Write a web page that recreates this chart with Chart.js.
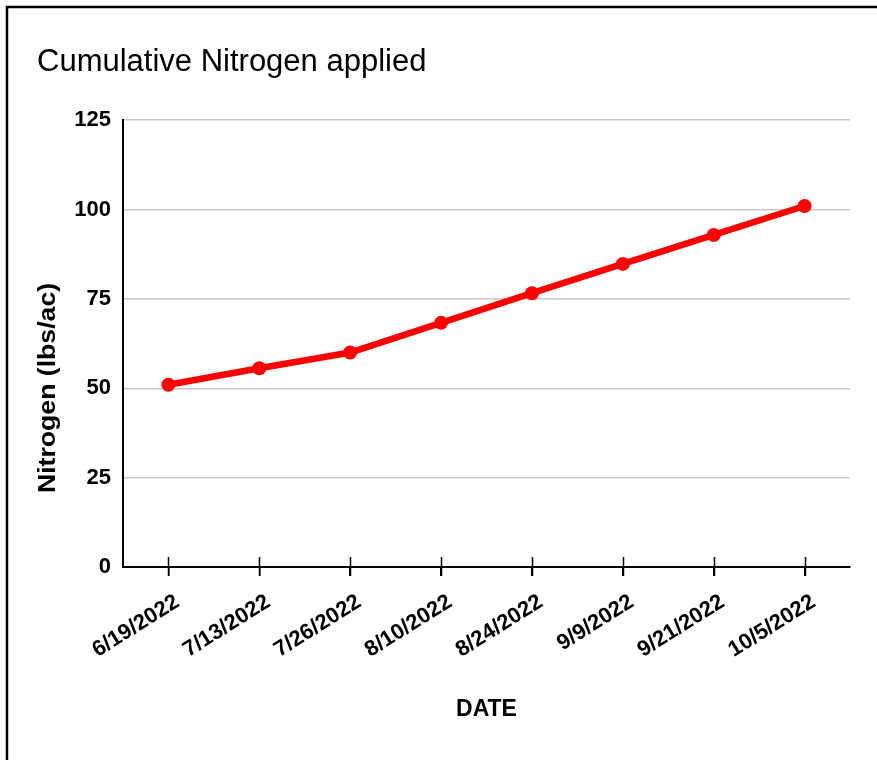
<!DOCTYPE html>
<html>
<head>
<meta charset="utf-8">
<script src="https://cdn.jsdelivr.net/npm/chart.js@4/dist/chart.umd.min.js"></script>
<style>
  html, body { margin: 0; padding: 0; background: #fff; }
  #wrap { position: absolute; left: 0; top: 0; width: 877px; height: 760px; }
</style>
</head>
<body>
<div id="wrap"><canvas id="c" width="877" height="760"></canvas></div>
<script>
const chartTitle = "Cumulative Nitrogen applied";
const categories = ["6/19/2022", "7/13/2022", "7/26/2022", "8/10/2022", "8/24/2022", "9/9/2022", "9/21/2022", "10/5/2022"];
const nitrogenValues = [51.0, 55.6, 60.0, 68.3, 76.6, 84.8, 92.9, 101.0];
const yTicks = [0, 25, 50, 75, 100, 125];
const yAxisTitle = "Nitrogen (lbs/ac)";
const xAxisTitle = "DATE";

const FONT = "'Liberation Sans', Arial, sans-serif";

const framePlugin = {
  id: 'frame',
  beforeDraw(chart) {
    const ctx = chart.ctx;
    ctx.save();
    ctx.fillStyle = '#fff';
    ctx.fillRect(0, 0, chart.width, chart.height);
    ctx.strokeStyle = '#000';
    ctx.lineWidth = 2.5;
    ctx.beginPath();
    ctx.moveTo(7, chart.height + 5);
    ctx.lineTo(7, 7);
    ctx.lineTo(chart.width + 5, 7);
    ctx.stroke();
    ctx.restore();
  },
  afterDraw(chart) {
    const ctx = chart.ctx;
    const xs = chart.scales.x;
    const ys = chart.scales.y;
    const y0 = ys.getPixelForValue(0);
    ctx.save();
    ctx.strokeStyle = '#000';
    ctx.lineWidth = 1.5;
    for (let i = 0; i < categories.length; i++) {
      const x = Math.round(xs.getPixelForValue(i)) + 0.5;
      ctx.beginPath();
      ctx.moveTo(x, y0 - 10);
      ctx.lineTo(x, y0 + 9);
      ctx.stroke();
    }
    // y axis title
    ctx.translate(48, 388);
    ctx.rotate(-Math.PI / 2);
    ctx.scale(1.11, 1);
    ctx.fillStyle = '#000';
    ctx.font = "bold 24px " + FONT;
    ctx.textAlign = 'center';
    ctx.textBaseline = 'middle';
    ctx.fillText(yAxisTitle, 0, 0);
    ctx.restore();
  }
};

new Chart(document.getElementById('c'), {
  type: 'line',
  data: {
    labels: categories,
    datasets: [{
      data: nitrogenValues,
      borderColor: '#ff0000',
      backgroundColor: '#ff0000',
      borderWidth: 6.5,
      pointRadius: 7,
      pointBackgroundColor: '#ff0000',
      pointBorderColor: '#ff0000',
      pointBorderWidth: 0,
      tension: 0,
      fill: false
    }]
  },
  options: {
    responsive: false,
    animation: false,
    devicePixelRatio: 1,
    layout: { padding: { left: 37, right: 27, top: 0, bottom: 0 } },
    plugins: {
      legend: { display: false },
      tooltip: { enabled: false },
      title: {
        display: true,
        text: chartTitle,
        align: 'start',
        color: '#000',
        font: { family: FONT, size: 31, weight: 'normal', lineHeight: 1.2 },
        padding: { top: 44, bottom: 39 }
      }
    },
    scales: {
      x: {
        type: 'category',
        offset: true,
        grid: { display: true, drawOnChartArea: false, drawTicks: true, tickLength: 9, offset: false, color: '#000', lineWidth: 1.5 },
        border: { display: true, color: '#000', width: 2 },
        ticks: {
          color: '#000',
          font: { family: FONT, size: 22, weight: 'bold' },
          minRotation: 32,
          maxRotation: 32,
          autoSkip: false,
          padding: 13,
          labelOffset: 9
        },
        title: {
          display: true,
          text: xAxisTitle,
          color: '#000',
          font: { family: FONT, size: 23, weight: 'bold', lineHeight: 1.2 },
          padding: { top: 0, bottom: 37 }
        },
        afterFit(scale) { scale.height = 193; }
      },
      y: {
        min: 0,
        max: 125,
        afterBuildTicks(scale) { scale.ticks = yTicks.map(v => ({ value: v })); },
        grid: { color: '#c8c8c8', lineWidth: 1.5, drawTicks: false },
        border: { display: true, color: '#000', width: 2 },
        ticks: {
          color: '#000',
          font: { family: FONT, size: 22, weight: 'bold' },
          padding: 12
        },
        afterFit(scale) { scale.width = 86; }
      }
    }
  },
  plugins: [framePlugin]
});
</script>
</body>
</html>
